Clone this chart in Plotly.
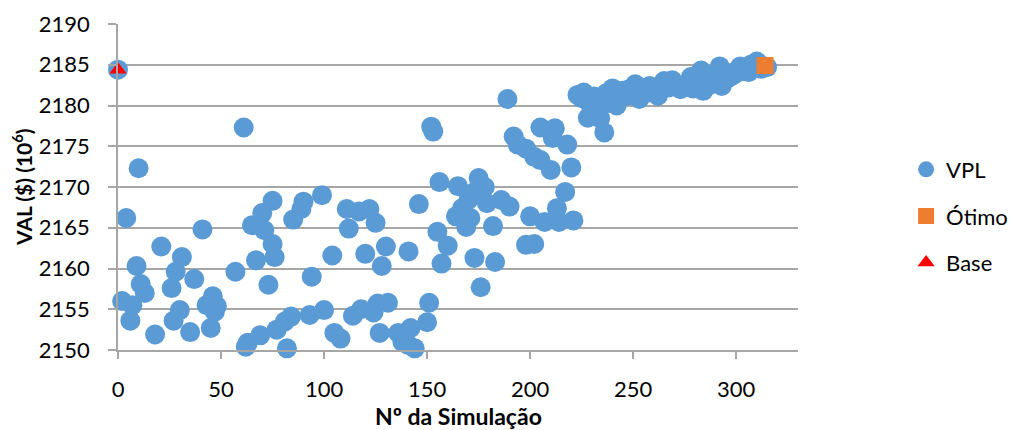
import plotly.graph_objects as go

# VPL: simulation number and value (10^6 $)
sim = [0, 2, 4, 6, 7, 9, 10, 11, 13, 18, 21, 26, 27, 28, 30, 31, 35, 37, 41, 43,
       45, 46, 47, 48, 57, 61, 62, 63, 65, 67, 69, 70, 71, 73, 75, 75, 76, 77, 81, 82,
       84, 85, 89, 90, 93, 94, 99, 100, 104, 105, 108, 111, 112, 114, 117, 118, 120, 122, 124, 125,
       126, 127, 128, 130, 131, 136, 138, 141, 141, 142, 144, 146, 150, 151, 152, 153, 155, 156, 157, 160,
       164, 165, 167, 169, 170, 171, 173, 173, 175, 176, 178, 179, 182, 183, 186, 189, 190, 192, 194, 198,
       198, 200, 202, 202, 205, 205, 207, 210, 211, 212, 213, 214, 217, 218, 220, 221, 223, 225, 226, 228,
       229, 231, 232, 233, 234, 235, 236, 237, 238, 240, 242, 243, 245, 247, 248, 249, 251, 253, 255, 257,
       258, 260, 262, 263, 265, 267, 269, 271, 273, 275, 277, 278, 279, 281, 282, 283, 284, 286, 287, 289,
       290, 292, 293, 295, 296, 297, 299, 300, 302, 303, 305, 306, 307, 309, 310, 311, 312, 314, 315]
vpl = [2184.4, 2156.0, 2166.2, 2153.6, 2155.5, 2160.3, 2172.3, 2158.1, 2157.0, 2151.9,
       2162.7, 2157.6, 2153.6, 2159.6, 2154.9, 2161.4, 2152.2, 2158.7, 2164.8, 2155.5,
       2152.7, 2156.6, 2154.7, 2155.4, 2159.6, 2177.3, 2150.4, 2150.9, 2165.3, 2161.0,
       2151.8, 2166.8, 2164.7, 2158.0, 2168.3, 2163.0, 2161.4, 2152.5, 2153.5, 2150.2,
       2154.1, 2166.0, 2167.3, 2168.2, 2154.3, 2159.0, 2169.0, 2154.9, 2161.6, 2152.1,
       2151.4, 2167.3, 2164.9, 2154.2, 2167.0, 2155.0, 2161.8, 2167.3, 2154.6, 2165.6,
       2155.7, 2152.1, 2160.3, 2162.7, 2155.8, 2152.1, 2151.0, 2162.1, 2150.6, 2152.7,
       2150.2, 2167.9, 2153.4, 2155.8, 2177.4, 2176.8, 2164.5, 2170.6, 2160.6, 2162.8,
       2166.4, 2170.1, 2167.4, 2165.1, 2168.4, 2166.2, 2169.4, 2161.3, 2171.1, 2157.7,
       2170.0, 2168.0, 2165.2, 2160.8, 2168.4, 2180.8, 2167.6, 2176.2, 2175.2, 2174.7,
       2162.9, 2166.4, 2163.0, 2173.7, 2173.3, 2177.3, 2165.7, 2172.1, 2176.0, 2177.2,
       2167.4, 2165.7, 2169.4, 2175.2, 2172.4, 2165.9, 2181.3, 2180.9, 2181.6, 2178.5,
       2180.2, 2181.1, 2180.6, 2179.8, 2178.4, 2181.0, 2176.7, 2181.5, 2180.3, 2182.1,
       2180.0, 2181.4, 2181.8, 2181.2, 2182.0, 2181.5, 2182.6, 2180.8, 2182.1, 2181.6,
       2182.4, 2181.8, 2181.2, 2182.3, 2183.0, 2182.2, 2183.1, 2182.5, 2182.0, 2182.3,
       2182.8, 2183.5, 2182.1, 2182.6, 2183.6, 2184.3, 2181.8, 2183.0, 2182.5, 2183.3,
       2182.9, 2184.8, 2182.4, 2183.2, 2184.0, 2183.5, 2183.8, 2184.2, 2184.8, 2184.2,
       2184.5, 2184.1, 2185.0, 2184.6, 2185.4, 2184.9, 2184.5, 2184.8, 2184.7]

otimo_x = [314]
otimo_y = [2184.9]
base_x = [0]
base_y = [2184.4]

x_ticks = [0, 50, 100, 150, 200, 250, 300]
y_ticks = [2150, 2155, 2160, 2165, 2170, 2175, 2180, 2185, 2190]

x_title = "<b>Nº da Simulação</b>"
y_title = "<b>VAL ($) (10<sup>6</sup>)</b>"

FONT = "Lato"

fig = go.Figure()
fig.add_trace(go.Scatter(x=sim, y=vpl, mode="markers", name="VPL", legendgroup="a",
                         marker=dict(symbol="circle", size=20, color="#5B9BD5",
                                     line=dict(width=0)), cliponaxis=False))
fig.add_trace(go.Scatter(x=otimo_x, y=otimo_y, mode="markers", name="Ótimo", legendgroup="b",
                         marker=dict(symbol="square", size=17, color="#ED7D31",
                                     line=dict(width=0)), cliponaxis=False))
fig.add_trace(go.Scatter(x=base_x, y=base_y, mode="markers", name="Base", legendgroup="c",
                         marker=dict(symbol="triangle-up", size=15, color="#FF0000",
                                     line=dict(width=0)), cliponaxis=False))

fig.update_layout(
    width=1011, height=430,
    margin=dict(l=118, r=213, t=24, b=80, autoexpand=False),
    paper_bgcolor="white", plot_bgcolor="white",
    font=dict(family=FONT, size=22, color="black"),
    legend=dict(x=1.159, y=0.411, xanchor="left", yanchor="middle",
                font=dict(family=FONT, size=22), tracegroupgap=15,
                itemwidth=30, traceorder="grouped"),
    xaxis=dict(range=[0, 330], tickvals=x_ticks, showgrid=False, zeroline=False,
               automargin=False,
               showline=True, linecolor="#A6A6A6", linewidth=1.5,
               ticks="outside", ticklen=7, tickcolor="#A6A6A6", tickwidth=1.5,
               ticklabelstandoff=12,
               tickfont=dict(family=FONT, size=22)),
    yaxis=dict(range=[2150, 2190], tickvals=y_ticks, showgrid=True, gridcolor="#A6A6A6",
               automargin=False,
               gridwidth=1.5, zeroline=False, showline=True, linecolor="#A6A6A6",
               linewidth=1.5, ticks="outside", ticklen=8, tickcolor="#A6A6A6", tickwidth=1.5,
               ticklabelstandoff=14,
               tickfont=dict(family=FONT, size=22)),
    annotations=[
        dict(text=x_title, xref="paper", yref="paper", x=0.5, y=-0.201,
             xanchor="center", yanchor="middle", showarrow=False,
             font=dict(family=FONT, size=23, color="black")),
        dict(text=y_title, xref="paper", yref="paper", x=-0.1412, y=0.5,
             xanchor="center", yanchor="middle", showarrow=False, textangle=-90,
             font=dict(family=FONT, size=21, color="black")),
    ],
)

fig.write_html("out.html")
